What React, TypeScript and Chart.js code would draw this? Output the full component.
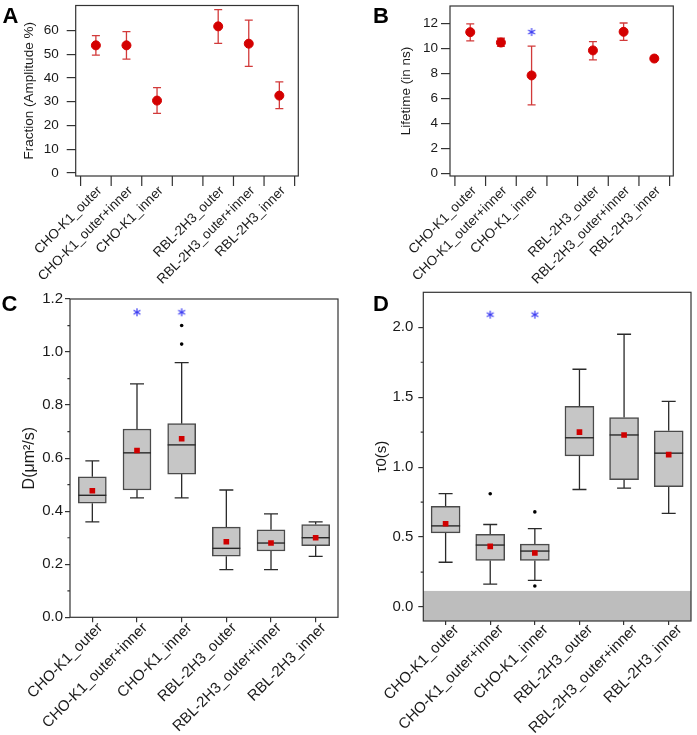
import React, { useEffect, useRef } from 'react';
import { Chart, registerables } from 'chart.js';

Chart.register(...registerables);
Chart.defaults.font.family = '"Liberation Sans", Arial, Helvetica, sans-serif';
Chart.defaults.color = '#1a1a1a';

// ---------------- data ----------------
const pairLabels = ['CHO-K1_outer', 'CHO-K1_outer+inner', 'CHO-K1_inner', '', 'RBL-2H3_outer', 'RBL-2H3_outer+inner', 'RBL-2H3_inner'];

const fractionMean = [53.8, 53.8, 30.5, null, 61.8, 54.5, 32.6];
const fractionHigh = [57.9, 59.6, 36.0, null, 68.9, 64.4, 38.4];
const fractionLow = [49.7, 48.0, 25.1, null, 54.6, 44.9, 27.1];
const fractionTicks = [0, 10, 20, 30, 40, 50, 60];

const lifetimeMean = [11.29, 10.46, 7.83, null, 9.83, 11.32, 9.18];
const lifetimeHigh = [11.95, 10.8, 10.18, null, 10.54, 12.02, 9.24];
const lifetimeLow = [10.59, 10.15, 5.48, null, 9.08, 10.64, 9.12];
const lifetimeTicks = [0, 2, 4, 6, 8, 10, 12];
const lifetimeStars = [{ x: 2, y: 11.3 }];

const boxLabels = ['CHO-K1_outer', 'CHO-K1_outer+inner', 'CHO-K1_inner', 'RBL-2H3_outer', 'RBL-2H3_outer+inner', 'RBL-2H3_inner'];

const diffMin = [0.36, 0.45, 0.45, 0.18, 0.18, 0.23];
const diffQ1 = [0.43, 0.48, 0.54, 0.23, 0.25, 0.27];
const diffMedian = [0.46, 0.62, 0.65, 0.26, 0.28, 0.3];
const diffQ3 = [0.53, 0.71, 0.73, 0.34, 0.33, 0.35];
const diffMax = [0.59, 0.88, 0.96, 0.48, 0.39, 0.36];
const diffMean = [0.477, 0.629, 0.673, 0.285, 0.28, 0.3];
const diffOutliers = [{ x: 2, y: 1.1 }, { x: 2, y: 1.03 }];
const diffStars = [{ x: 1, y: 1.15 }, { x: 2, y: 1.15 }];
const diffTicks = [0, 0.2, 0.4, 0.6, 0.8, 1.0, 1.2];
const diffMinorTicks = [0.1, 0.3, 0.5, 0.7, 0.9, 1.1];

const tauMin = [0.32, 0.164, 0.19, 0.84, 0.85, 0.67];
const tauQ1 = [0.53, 0.333, 0.333, 1.08, 0.91, 0.86];
const tauMedian = [0.58, 0.443, 0.4, 1.21, 1.23, 1.1];
const tauQ3 = [0.72, 0.52, 0.45, 1.435, 1.355, 1.26];
const tauMax = [0.81, 0.59, 0.56, 1.7, 1.95, 1.47];
const tauMean = [0.595, 0.433, 0.386, 1.25, 1.23, 1.09];
const tauOutliers = [{ x: 1, y: 0.81 }, { x: 2, y: 0.68 }, { x: 2, y: 0.15 }];
const tauStars = [{ x: 1, y: 2.09 }, { x: 2, y: 2.09 }];
const tauTicks = [0, 0.5, 1.0, 1.5, 2.0];
const tauMinorTicks = [0.25, 0.75, 1.25, 1.75];
const tauBand = [-0.1, 0.115];

// ---------------- helpers ----------------
const AXIS = '#333333';
const TEXT = '#1a1a1a';

function zeroPad(s: any) {
  s.paddingLeft = 0;
  s.paddingRight = 0;
  s.paddingTop = 0;
  s.paddingBottom = 0;
}

function makeStar(): HTMLCanvasElement {
  const c = document.createElement('canvas');
  c.width = 10;
  c.height = 10;
  const g = c.getContext('2d')!;
  g.strokeStyle = '#3a3af2';
  g.lineWidth = 1.2;
  const cx = 5, cy = 5, r = 4;
  for (const a of [90, 30, 150]) {
    const t = (a * Math.PI) / 180;
    g.beginPath();
    g.moveTo(cx - r * Math.cos(t), cy - r * Math.sin(t));
    g.lineTo(cx + r * Math.cos(t), cy + r * Math.sin(t));
    g.stroke();
  }
  return c;
}

type DecorCfg = {
  letter: string;
  letterX: number;
  letterY: number;
  band?: number[];
  minor?: number[];
  minorLen?: number;
  boundaryTicks?: number;
  boundaryLen?: number;
  errors?: { mean: (number | null)[]; low: (number | null)[]; high: (number | null)[]; cap: number };
  boxes?: { min: number[]; q1: number[]; med: number[]; q3: number[]; max: number[]; cap: number; half: number };
};

function decor(cfg: DecorCfg) {
  return {
    id: 'decor',
    beforeDatasetsDraw(chart: any) {
      const { ctx, chartArea: a, scales } = chart;
      const x = scales.x;
      const y = scales.y;
      ctx.save();
      if (cfg.band) {
        const yTop = y.getPixelForValue(cfg.band[1]);
        const yBot = y.getPixelForValue(cfg.band[0]);
        ctx.fillStyle = '#bdbdbd';
        ctx.fillRect(a.left, yTop, a.right - a.left, yBot - yTop);
      }
      if (cfg.errors) {
        const e = cfg.errors;
        ctx.strokeStyle = '#d23a3a';
        ctx.lineWidth = 1.3;
        e.mean.forEach((m, i) => {
          if (m == null) return;
          const px = x.getPixelForValue(i);
          const yl = y.getPixelForValue(e.low[i]);
          const yh = y.getPixelForValue(e.high[i]);
          ctx.beginPath();
          ctx.moveTo(px, yl);
          ctx.lineTo(px, yh);
          ctx.moveTo(px - e.cap, yl);
          ctx.lineTo(px + e.cap, yl);
          ctx.moveTo(px - e.cap, yh);
          ctx.lineTo(px + e.cap, yh);
          ctx.stroke();
        });
      }
      if (cfg.boxes) {
        const b = cfg.boxes;
        ctx.strokeStyle = '#2a2a2a';
        ctx.lineWidth = 1.3;
        b.min.forEach((_, i) => {
          const px = x.getPixelForValue(i);
          const yMax = y.getPixelForValue(b.max[i]);
          const yQ3 = y.getPixelForValue(b.q3[i]);
          const yQ1 = y.getPixelForValue(b.q1[i]);
          const yMin = y.getPixelForValue(b.min[i]);
          ctx.beginPath();
          ctx.moveTo(px, yQ3);
          ctx.lineTo(px, yMax);
          ctx.moveTo(px - b.cap, yMax);
          ctx.lineTo(px + b.cap, yMax);
          ctx.moveTo(px, yQ1);
          ctx.lineTo(px, yMin);
          ctx.moveTo(px - b.cap, yMin);
          ctx.lineTo(px + b.cap, yMin);
          ctx.stroke();
        });
      }
      ctx.restore();
    },
    afterDatasetDraw(chart: any, args: any) {
      if (!cfg.boxes || args.index !== 0) return;
      const { ctx, scales } = chart;
      const b = cfg.boxes;
      ctx.save();
      ctx.strokeStyle = '#2a2a2a';
      ctx.lineWidth = 1.4;
      b.med.forEach((m, i) => {
        const px = scales.x.getPixelForValue(i);
        const py = scales.y.getPixelForValue(m);
        ctx.beginPath();
        ctx.moveTo(px - b.half, py);
        ctx.lineTo(px + b.half, py);
        ctx.stroke();
      });
      ctx.restore();
    },
    afterDraw(chart: any) {
      const { ctx, chartArea: a, scales } = chart;
      ctx.save();
      ctx.strokeStyle = AXIS;
      ctx.lineWidth = 1.2;
      ctx.strokeRect(a.left, a.top, a.right - a.left, a.bottom - a.top);
      if (cfg.minor) {
        const len = cfg.minorLen || 3;
        ctx.beginPath();
        cfg.minor.forEach((v) => {
          const py = scales.y.getPixelForValue(v);
          ctx.moveTo(a.left - len, py);
          ctx.lineTo(a.left, py);
        });
        ctx.stroke();
      }
      if (cfg.boundaryTicks) {
        const len = cfg.boundaryLen || 10;
        ctx.beginPath();
        for (let k = 0; k <= cfg.boundaryTicks; k++) {
          const px = scales.x.getPixelForValue(k - 0.5);
          ctx.moveTo(px, a.bottom);
          ctx.lineTo(px, a.bottom + len);
        }
        ctx.stroke();
      }
      ctx.fillStyle = '#000';
      ctx.font = 'bold 22px "Liberation Sans", Arial, sans-serif';
      ctx.textAlign = 'left';
      ctx.textBaseline = 'alphabetic';
      ctx.fillText(cfg.letter, cfg.letterX, cfg.letterY);
      ctx.restore();
    },
  };
}

type PairSpec = {
  mean: (number | null)[];
  low: (number | null)[];
  high: (number | null)[];
  yMin: number;
  yMax: number;
  yTicks: number[];
  title: string;
  yWidth: number;
  titlePad: number;
  tickPad: number;
  tickLen: number;
  padTop: number;
  padRight: number;
  xHeight: number;
  stars?: { x: number; y: number }[];
  letter: string;
  letterX: number;
  letterY: number;
};

function pairConfig(p: PairSpec, star: HTMLCanvasElement): any {
  const points = p.mean
    .map((v, i) => (v == null ? null : { x: i, y: v }))
    .filter((d) => d !== null);
  const datasets: any[] = [
    { data: points, backgroundColor: '#d40000', borderColor: '#d40000', pointRadius: 4.5, borderWidth: 1, order: 1 },
  ];
  if (p.stars) datasets.push({ data: p.stars, pointStyle: star, pointRadius: 5, order: 0 });
  const font = { size: 13.5 };
  return {
    type: 'scatter',
    data: { datasets },
    options: {
      animation: false,
      responsive: false,
      devicePixelRatio: 1,
      events: [],
      layout: { padding: { left: 0, top: p.padTop, right: p.padRight, bottom: 0 } },
      plugins: { legend: { display: false }, tooltip: { enabled: false } },
      scales: {
        x: {
          type: 'linear',
          min: -0.66,
          max: 6.62,
          afterBuildTicks: (s: any) => {
            s.ticks = pairLabels.map((_, i) => ({ value: i }));
          },
          afterFit: (s: any) => {
            s.height = p.xHeight;
            zeroPad(s);
          },
          grid: { display: false, drawTicks: false },
          border: { display: false },
          ticks: {
            autoSkip: false,
            minRotation: 45,
            maxRotation: 45,
            padding: 7,
            labelOffset: 4,
            font,
            color: TEXT,
            callback: (v: number) => pairLabels[v] ?? '',
          },
        },
        y: {
          min: p.yMin,
          max: p.yMax,
          afterBuildTicks: (s: any) => {
            s.ticks = p.yTicks.map((v) => ({ value: v }));
          },
          afterFit: (s: any) => {
            s.width = p.yWidth;
            zeroPad(s);
          },
          grid: { drawOnChartArea: false, tickLength: p.tickLen, color: AXIS, lineWidth: 1.2 },
          border: { display: false },
          ticks: { padding: p.tickPad, font, color: TEXT, callback: (v: number) => String(v) },
          title: { display: true, text: p.title, font, color: TEXT, padding: { top: p.titlePad, bottom: 0 } },
        },
      },
    },
    plugins: [
      decor({
        letter: p.letter,
        letterX: p.letterX,
        letterY: p.letterY,
        boundaryTicks: pairLabels.length,
        boundaryLen: 10,
        errors: { mean: p.mean, low: p.low, high: p.high, cap: 4 },
      }),
    ],
  };
}

type BoxSpec = {
  min: number[];
  q1: number[];
  med: number[];
  q3: number[];
  max: number[];
  mean: number[];
  outliers: { x: number; y: number }[];
  stars: { x: number; y: number }[];
  yMin: number;
  yMax: number;
  yTicks: number[];
  minor: number[];
  band?: number[];
  title: string;
  titleSize: number;
  yWidth: number;
  titlePad: number;
  tickPad: number;
  tickLen: number;
  xTickLen: number;
  padTop: number;
  padRight: number;
  xHeight: number;
  barWidth: number;
  labelOffset: number;
  labelPad: number;
  letter: string;
  letterX: number;
  letterY: number;
};

// category x values given as label strings so Chart.js places them on the right category
const toCat = (pts: { x: number; y: number }[]) => pts.map((d) => ({ x: boxLabels[d.x], y: d.y }));

function boxConfig(p: BoxSpec, star: HTMLCanvasElement): any {
  const font = { size: 15 };
  return {
    type: 'bar',
    data: {
      labels: boxLabels,
      datasets: [
        {
          type: 'bar',
          data: p.q1.map((q, i) => [q, p.q3[i]]),
          backgroundColor: '#c6c6c6',
          borderColor: '#4a4a4a',
          borderWidth: 1.5,
          borderSkipped: false,
          barThickness: p.barWidth,
          order: 5,
        },
        {
          type: 'line',
          data: p.mean,
          showLine: false,
          pointStyle: 'rect',
          pointRadius: 4,
          borderWidth: 0,
          backgroundColor: '#d00000',
          borderColor: '#d00000',
          order: 1,
        },
        {
          type: 'line',
          data: toCat(p.outliers),
          showLine: false,
          pointRadius: 1.8,
          borderWidth: 0,
          backgroundColor: '#000',
          borderColor: '#000',
          order: 2,
        },
        {
          type: 'line',
          data: toCat(p.stars),
          showLine: false,
          pointStyle: star,
          pointRadius: 5,
          order: 0,
        },
      ],
    },
    options: {
      animation: false,
      responsive: false,
      devicePixelRatio: 1,
      events: [],
      layout: { padding: { left: 0, top: p.padTop, right: p.padRight, bottom: 0 } },
      plugins: { legend: { display: false }, tooltip: { enabled: false } },
      scales: {
        x: {
          type: 'category',
          offset: true,
          afterFit: (s: any) => {
            s.height = p.xHeight;
            zeroPad(s);
          },
          grid: { display: true, drawOnChartArea: false, offset: false, tickLength: p.xTickLen, color: AXIS, lineWidth: 1.2 },
          border: { display: false },
          ticks: {
            autoSkip: false,
            minRotation: 45,
            maxRotation: 45,
            padding: p.labelPad,
            labelOffset: p.labelOffset,
            font,
            color: TEXT,
          },
        },
        y: {
          type: 'linear',
          min: p.yMin,
          max: p.yMax,
          afterBuildTicks: (s: any) => {
            s.ticks = p.yTicks.map((v) => ({ value: v }));
          },
          afterFit: (s: any) => {
            s.width = p.yWidth;
            zeroPad(s);
          },
          grid: { drawOnChartArea: false, tickLength: p.tickLen, color: AXIS, lineWidth: 1.2 },
          border: { display: false },
          ticks: { padding: p.tickPad, font, color: TEXT, callback: (v: number) => v.toFixed(1) },
          title: {
            display: true,
            text: p.title,
            font: { size: p.titleSize },
            color: TEXT,
            padding: { top: p.titlePad, bottom: 0 },
          },
        },
      },
    },
    plugins: [
      decor({
        letter: p.letter,
        letterX: p.letterX,
        letterY: p.letterY,
        band: p.band,
        minor: p.minor,
        minorLen: 2.6,
        boxes: { min: p.min, q1: p.q1, med: p.med, q3: p.q3, max: p.max, cap: 7, half: p.barWidth / 2 },
      }),
    ],
  };
}

function Panel(props: { left: number; top: number; width: number; height: number; make: (star: HTMLCanvasElement) => any }) {
  const ref = useRef<HTMLCanvasElement>(null);
  useEffect(() => {
    const chart = new Chart(ref.current as HTMLCanvasElement, props.make(makeStar()));
    return () => chart.destroy();
  }, []);
  return (
    <canvas
      ref={ref}
      width={props.width}
      height={props.height}
      style={{ position: 'absolute', left: props.left, top: props.top, width: props.width, height: props.height }}
    />
  );
}

export default function App() {
  return (
    <div style={{ position: 'absolute', left: 0, top: 0, width: 697, height: 735, background: '#fff', overflow: 'hidden' }}>
      <Panel
        left={0}
        top={0}
        width={350}
        height={290}
        make={(star) =>
          pairConfig(
            {
              mean: fractionMean,
              low: fractionLow,
              high: fractionHigh,
              yMin: -1.3,
              yMax: 70.6,
              yTicks: fractionTicks,
              title: 'Fraction (Amplitude %)',
              yWidth: 75.7,
              titlePad: 21.2,
              tickPad: 8,
              tickLen: 9,
              padTop: 2,
              padRight: 51.7,
              xHeight: 114,
              letter: 'A',
              letterX: 2.5,
              letterY: 23.3,
            },
            star
          )
        }
      />
      <Panel
        left={350}
        top={0}
        width={347}
        height={290}
        make={(star) =>
          pairConfig(
            {
              mean: lifetimeMean,
              low: lifetimeLow,
              high: lifetimeHigh,
              yMin: -0.21,
              yMax: 13.38,
              yTicks: lifetimeTicks,
              title: 'Lifetime (in ns)',
              yWidth: 100,
              titlePad: 48.6,
              tickPad: 3,
              tickLen: 9,
              padTop: 2.3,
              padRight: 23.7,
              xHeight: 114,
              stars: lifetimeStars,
              letter: 'B',
              letterX: 23,
              letterY: 22.7,
            },
            star
          )
        }
      />
      <Panel
        left={0}
        top={285}
        width={350}
        height={450}
        make={(star) =>
          boxConfig(
            {
              min: diffMin,
              q1: diffQ1,
              med: diffMedian,
              q3: diffQ3,
              max: diffMax,
              mean: diffMean,
              outliers: diffOutliers,
              stars: diffStars,
              yMin: 0,
              yMax: 1.2,
              yTicks: diffTicks,
              minor: diffMinorTicks,
              title: 'D(\u03bcm\u00b2/s)',
              titleSize: 16,
              yWidth: 70,
              titlePad: 20.4,
              tickPad: 2,
              tickLen: 5,
              xTickLen: 5,
              padTop: 14,
              padRight: 12,
              xHeight: 117.7,
              barWidth: 28,
              labelOffset: 8,
              labelPad: -3,
              letter: 'C',
              letterX: 1.5,
              letterY: 25.5,
            },
            star
          )
        }
      />
      <Panel
        left={350}
        top={285}
        width={347}
        height={450}
        make={(star) =>
          boxConfig(
            {
              min: tauMin,
              q1: tauQ1,
              med: tauMedian,
              q3: tauQ3,
              max: tauMax,
              mean: tauMean,
              outliers: tauOutliers,
              stars: tauStars,
              yMin: -0.1,
              yMax: 2.25,
              yTicks: tauTicks,
              minor: tauMinorTicks,
              band: tauBand,
              title: '\u03c40(s)',
              titleSize: 15,
              yWidth: 73.3,
              titlePad: 22.7,
              tickPad: 5,
              tickLen: 5,
              xTickLen: 4,
              padTop: 7.3,
              padRight: 2.7,
              xHeight: 114,
              barWidth: 29,
              labelOffset: 11,
              labelPad: -4,
              letter: 'D',
              letterX: 23,
              letterY: 25.7,
            },
            star
          )
        }
      />
    </div>
  );
}
